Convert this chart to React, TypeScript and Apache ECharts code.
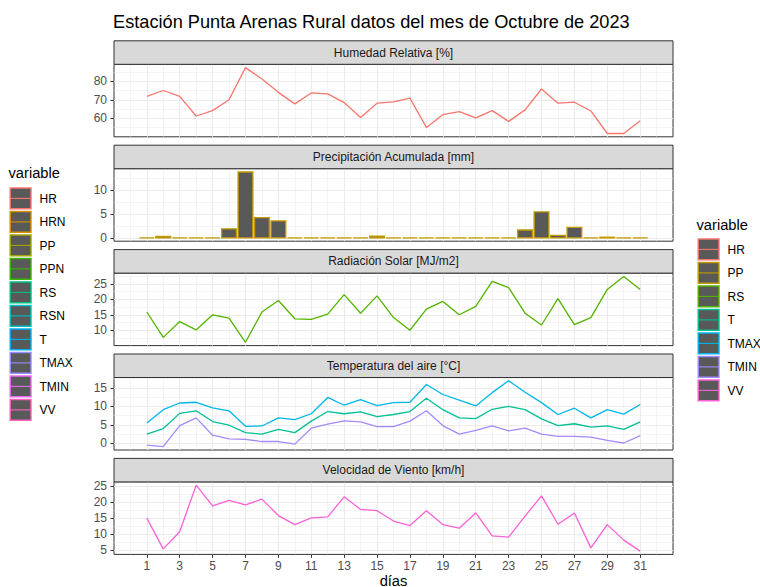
import { useEffect, useRef } from "react";
import * as echarts from "echarts";

// ---- data ----
const days = [1, 2, 3, 4, 5, 6, 7, 8, 9, 10, 11, 12, 13, 14, 15, 16, 17, 18, 19, 20, 21, 22, 23, 24, 25, 26, 27, 28, 29, 30, 31];
const hr = [71.8, 75.0, 71.8, 61.3, 64.2, 70.0, 87.3, 81.2, 74.0, 67.8, 73.7, 73.2, 68.5, 60.5, 68.2, 68.9, 70.9, 55.1, 62.0, 63.7, 60.3, 64.2, 58.4, 64.6, 75.8, 68.2, 68.7, 64.0, 51.9, 51.9, 58.7];
const pp = [0, 0.3, 0, 0, 0.1, 1.9, 13.8, 4.25, 3.55, 0, 0, 0, 0, 0, 0.35, 0, 0, 0, 0, 0, 0, 0, 0, 1.65, 5.45, 0.55, 2.2, 0, 0.15, 0, 0];
const rs = [15.9, 7.7, 12.8, 10.1, 15.0, 13.9, 6.1, 15.9, 19.6, 13.7, 13.5, 15.2, 21.5, 15.5, 21.1, 14.1, 10.0, 16.8, 19.3, 15.0, 17.7, 25.8, 23.8, 15.5, 11.7, 20.2, 11.8, 14.1, 23.2, 27.4, 23.2];
const tmax = [5.5, 9.1, 10.9, 11.1, 9.6, 8.8, 4.6, 4.7, 6.9, 6.4, 8.0, 12.4, 10.3, 11.8, 10.2, 11.0, 11.1, 15.9, 13.2, 11.7, 10.1, 13.7, 16.9, 13.8, 11.0, 7.8, 9.5, 6.9, 9.1, 7.9, 10.5];
const tmean = [2.5, 4.0, 8.1, 8.8, 5.9, 4.9, 2.9, 2.5, 3.8, 2.9, 6.0, 8.6, 8.0, 8.5, 7.2, 7.8, 8.6, 12.2, 9.1, 6.9, 6.7, 9.2, 10.0, 9.1, 6.6, 4.8, 5.3, 4.4, 4.7, 3.8, 5.8];
const tmin = [-0.5, -0.9, 4.8, 6.9, 2.2, 1.2, 1.1, 0.5, 0.5, -0.2, 4.1, 5.2, 6.1, 5.8, 4.5, 4.5, 6.0, 8.8, 4.8, 2.5, 3.5, 4.7, 3.4, 4.1, 2.5, 1.9, 1.9, 1.7, 0.8, 0.1, 2.1];
const vv = [15.0, 5.5, 10.8, 25.2, 18.8, 20.5, 19.1, 20.9, 15.8, 13.0, 15.1, 15.4, 21.6, 17.7, 17.3, 14.1, 12.7, 17.3, 13.0, 11.9, 16.6, 9.5, 9.1, 15.6, 21.9, 13.1, 16.6, 5.8, 13.0, 8.2, 4.8];

const xBreaks = [1, 3, 5, 7, 9, 11, 13, 15, 17, 19, 21, 23, 25, 27, 29, 31];
const xMinorBreaks = [0, 2, 4, 6, 8, 10, 12, 14, 16, 18, 20, 22, 24, 26, 28, 30, 32];
const panelTitles = [
  "Humedad Relativa [%]",
  "Precipitación Acumulada [mm]",
  "Radiación Solar [MJ/m2]",
  "Temperatura del aire [°C]",
  "Velocidad de Viento [km/h]",
];
const yBreaks = [[60, 70, 80], [0, 5, 10], [5, 10, 15, 20, 25], [0, 5, 10, 15], [5, 10, 15, 20, 25]];
const yMinorBreaks = [
  [55, 65, 75, 85],
  [2.5, 7.5, 12.5],
  [7.5, 12.5, 17.5, 22.5, 27.5],
  [-2.5, 2.5, 7.5, 12.5, 17.5],
  [2.5, 7.5, 12.5, 17.5, 22.5, 27.5],
];
const legendLeftNames = ["HR", "HRN", "PP", "PPN", "RS", "RSN", "T", "TMAX", "TMIN", "VV"];
const legendLeftColors = ["#F8766D", "#D89000", "#A3A500", "#39B600", "#00BF7D", "#00BFC4", "#00B0F6", "#9590FF", "#E76BF3", "#FF62BC"];
const legendRightNames = ["HR", "PP", "RS", "T", "TMAX", "TMIN", "VV"];
const legendRightColors = ["#F8766D", "#C49A00", "#53B400", "#00C094", "#00B6EB", "#A58AFF", "#FB61D7"];

const FONT = "Liberation Sans, Arial, Helvetica, sans-serif";

// ---- layout ----
const GRID_LEFT = 114;
const GRID_WIDTH = 559;
const STRIP_TOP0 = 40.8;
const PITCH = 104.4;
const STRIP_H = 23.5;
const PLOT_H = 72.5;

function expand(lo: number, hi: number): [number, number] {
  const d = (hi - lo) * 0.05;
  return [lo - d, hi + d];
}

export default function App() {
  const ref = useRef<HTMLDivElement>(null);

  useEffect(() => {
    if (!ref.current) return;
    const chart = echarts.init(ref.current, undefined, { renderer: "svg" });

    const xLim = expand(days[0] - 0.45, days[days.length - 1] + 0.45);
    const yLims: [number, number][] = [
      expand(Math.min(...hr), Math.max(...hr)),
      expand(Math.min(0, ...pp), Math.max(...pp)),
      expand(Math.min(...rs), Math.max(...rs)),
      expand(Math.min(...tmin, ...tmean, ...tmax), Math.max(...tmin, ...tmean, ...tmax)),
      expand(Math.min(...vv), Math.max(...vv)),
    ];

    const grids: any[] = [];
    const xAxes: any[] = [];
    const yAxes: any[] = [];
    const graphics: any[] = [];

    panelTitles.forEach((title, i) => {
      const stripTop = STRIP_TOP0 + PITCH * i;
      const plotTop = stripTop + STRIP_H;
      grids.push({
        left: GRID_LEFT,
        width: GRID_WIDTH,
        top: plotTop,
        height: PLOT_H,
        show: true,
        backgroundColor: "#FFFFFF",
        borderColor: "#333333",
        borderWidth: 1,
        containLabel: false,
        outerBoundsMode: "none",
      });
      const isBottom = i === panelTitles.length - 1;
      xAxes.push({
        type: "value",
        gridIndex: i,
        position: "bottom",
        min: xLim[0],
        max: xLim[1],
        axisLine: { show: false, onZero: false },
        axisTick: {
          show: isBottom,
          customValues: xBreaks,
          length: 3.5,
          lineStyle: { color: "#333333", width: 1 },
        },
        axisLabel: {
          show: isBottom,
          customValues: xBreaks,
          margin: 6,
          color: "#4D4D4D",
          fontSize: 12,
          fontFamily: FONT,
        },
        splitLine: { show: true, lineStyle: { color: "#EBEBEB", width: 1.1 } },
        name: isBottom ? "días" : "",
        nameLocation: "middle",
        nameGap: 18,
        nameTextStyle: { color: "#000000", fontSize: 14.7, fontFamily: FONT },
      });
      xAxes.push({
        type: "value",
        gridIndex: i,
        position: "bottom",
        min: xLim[0],
        max: xLim[1],
        axisLine: { show: false, onZero: false },
        axisTick: { show: false, customValues: xMinorBreaks },
        axisLabel: { show: false, customValues: xMinorBreaks },
        splitLine: { show: true, lineStyle: { color: "#EBEBEB", width: 0.55 } },
      });
      const lim = yLims[i];
      const minors = yMinorBreaks[i].filter((v) => v > lim[0] && v < lim[1]);
      yAxes.push({
        type: "value",
        gridIndex: i,
        position: "left",
        min: lim[0],
        max: lim[1],
        axisLine: { show: false, onZero: false },
        axisTick: {
          show: true,
          customValues: yBreaks[i],
          length: 3.5,
          lineStyle: { color: "#333333", width: 1 },
        },
        axisLabel: {
          show: true,
          customValues: yBreaks[i],
          margin: 7,
          color: "#4D4D4D",
          fontSize: 12,
          fontFamily: FONT,
        },
        splitLine: { show: true, lineStyle: { color: "#EBEBEB", width: 1.1 } },
      });
      yAxes.push({
        type: "value",
        gridIndex: i,
        position: "left",
        min: lim[0],
        max: lim[1],
        axisLine: { show: false, onZero: false },
        axisTick: { show: false, customValues: minors },
        axisLabel: { show: false, customValues: minors },
        splitLine: { show: true, lineStyle: { color: "#EBEBEB", width: 0.55 } },
      });
      graphics.push({
        type: "rect",
        shape: { x: GRID_LEFT, y: stripTop, width: GRID_WIDTH, height: STRIP_H },
        style: { fill: "#D9D9D9", stroke: "#333333", lineWidth: 1 },
        z: 10,
      });
      graphics.push({
        type: "text",
        x: GRID_LEFT + GRID_WIDTH / 2,
        y: stripTop + STRIP_H / 2,
        style: {
          text: title,
          fill: "#1A1A1A",
          fontSize: 12,
          fontFamily: FONT,
          align: "center",
          verticalAlign: "middle",
        },
        z: 11,
      });
    });

    // title
    graphics.push({
      type: "text",
      x: 113,
      y: 22,
      style: {
        text: "Estación Punta Arenas Rural datos del mes de Octubre de 2023",
        fill: "#000000",
        fontSize: 18.2,
        fontFamily: FONT,
        align: "left",
        verticalAlign: "middle",
      },
    });

    const legend = (names: string[], colors: string[], x: number, titleY: number, keyTop: number) => {
      graphics.push({
        type: "text",
        x: x - 1,
        y: titleY,
        style: { text: "variable", fill: "#000000", fontSize: 14.7, fontFamily: FONT, verticalAlign: "middle" },
      });
      names.forEach((n, k) => {
        const y = keyTop + k * 23.5;
        graphics.push({
          type: "rect",
          shape: { x: x + 0.7, y: y + 0.7, width: 20.8, height: 20.8 },
          style: { fill: "#595959", stroke: colors[k], lineWidth: 1.4 },
        });
        graphics.push({
          type: "line",
          shape: { x1: x + 0.7, y1: y + 11.1, x2: x + 21.5, y2: y + 11.1 },
          style: { stroke: colors[k], lineWidth: 1.1 },
        });
        graphics.push({
          type: "text",
          x: x + 30,
          y: y + 11.5,
          style: { text: n, fill: "#000000", fontSize: 12, fontFamily: FONT, verticalAlign: "middle" },
        });
      });
    };
    legend(legendLeftNames, legendLeftColors, 9.5, 173.3, 187.3);
    legend(legendRightNames, legendRightColors, 697.5, 225, 238.3);

    const pair = (arr: number[]) => days.map((d, k) => [d, arr[k]]);
    const lineSeries = (name: string, arr: number[], idx: number, color: string) => ({
      type: "line",
      name,
      xAxisIndex: idx,
      yAxisIndex: idx,
      data: pair(arr),
      symbol: "none",
      lineStyle: { color, width: 1.3 },
      itemStyle: { color },
      z: 5,
    });

    const option: any = {
      animation: false,
      backgroundColor: "#FFFFFF",
      textStyle: { fontFamily: FONT },
      grid: grids,
      xAxis: xAxes,
      yAxis: yAxes,
      graphic: graphics,
      series: [
        lineSeries("HR", hr, 0, "#F8766D"),
        {
          type: "custom",
          name: "PP",
          xAxisIndex: 2,
          yAxisIndex: 2,
          data: pair(pp),
          z: 5,
          renderItem: (params: any, api: any) => {
            const x = api.value(0);
            const v = api.value(1);
            const p0 = api.coord([x - 0.45, v]);
            const p1 = api.coord([x + 0.45, 0]);
            const h = p1[1] - p0[1];
            if (h < 0.6) {
              return {
                type: "line",
                shape: { x1: p0[0], y1: p1[1], x2: p1[0], y2: p1[1] },
                style: { stroke: "#C49A00", lineWidth: 1.3 },
              };
            }
            return {
              type: "rect",
              shape: { x: p0[0], y: p0[1], width: p1[0] - p0[0], height: h },
              style: { fill: "#595959", stroke: "#C49A00", lineWidth: 1.3 },
            };
          },
        },
        lineSeries("RS", rs, 4, "#53B400"),
        lineSeries("TMAX", tmax, 6, "#00B6EB"),
        lineSeries("T", tmean, 6, "#00C094"),
        lineSeries("TMIN", tmin, 6, "#A58AFF"),
        lineSeries("VV", vv, 8, "#FB61D7"),
      ],
    };
    chart.setOption(option);
    return () => chart.dispose();
  }, []);

  return (
    <div
      ref={ref}
      style={{ position: "absolute", left: 0, top: 0, width: 760, height: 587, background: "#FFFFFF" }}
    />
  );
}
